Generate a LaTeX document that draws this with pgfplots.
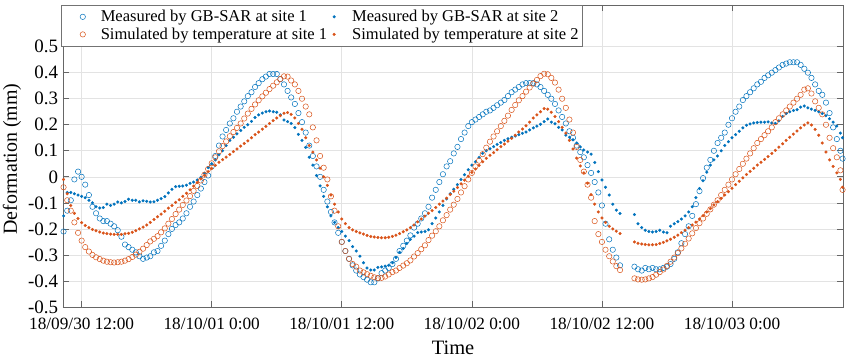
\documentclass[border=0pt]{standalone}
\usepackage{pgfplots}
\pgfplotsset{compat=1.18}
\usepackage{pgfplotstable}
\usepackage{fontspec}
\setmainfont{Liberation Serif}
\definecolor{mblue}{rgb}{0,0.447,0.741}
\definecolor{morange}{rgb}{0.851,0.325,0.098}

\pgfplotstableread{
t A B C D
10.33 -0.21 -0.04 -0.15 -0.01
10.67 -0.13 -0.09 -0.06 -0.065
11.00 -0.09 -0.13 -0.06 -0.11
11.33 -0.01 -0.175 -0.065 -0.14
11.67 0.02 -0.215 -0.07 -0.16
12.00 0.0 -0.245 -0.075 -0.176
12.33 -0.03 -0.27 -0.08 -0.187
12.67 -0.07 -0.287 -0.09 -0.195
13.00 -0.115 -0.3 -0.1 -0.202
13.33 -0.14 -0.309 -0.115 -0.207
13.67 -0.16 -0.316 -0.12 -0.212
14.00 -0.17 -0.322 -0.118 -0.216
14.33 -0.17 -0.326 -0.105 -0.218
14.67 -0.18 -0.328 -0.11 -0.22
15.00 -0.19 -0.329 -0.105 -0.221
15.33 -0.205 -0.328 -0.097 -0.221
15.67 -0.23 -0.326 -0.1 -0.221
16.00 -0.26 -0.322 -0.095 -0.219
16.33 -0.27 -0.316 -0.086 -0.217
16.67 -0.28 -0.308 -0.09 -0.213
17.00 -0.29 -0.299 -0.09 -0.207
17.33 -0.305 -0.288 -0.096 -0.2
17.67 -0.315 -0.276 -0.092 -0.193
18.00 -0.31 -0.262 -0.094 -0.185
18.33 -0.305 -0.248 -0.097 -0.175
18.67 -0.29 -0.238 -0.096 -0.164
19.00 -0.285 -0.228 -0.09 -0.153
19.33 -0.265 -0.213 -0.084 -0.143
19.67 -0.245 -0.198 -0.076 -0.132
20.00 -0.22 -0.18 -0.062 -0.12
20.33 -0.2 -0.162 -0.048 -0.11
20.67 -0.185 -0.143 -0.038 -0.098
21.00 -0.175 -0.126 -0.036 -0.088
21.33 -0.16 -0.108 -0.035 -0.075
21.67 -0.14 -0.091 -0.032 -0.063
22.00 -0.115 -0.074 -0.025 -0.05
22.33 -0.095 -0.054 -0.02 -0.036
22.67 -0.07 -0.035 -0.012 -0.022
23.00 -0.045 -0.014 -0.002 -0.008
23.33 -0.02 0.008 0.014 0.006
23.67 0.005 0.03 0.035 0.02
24.00 0.04 0.052 0.05 0.032
24.33 0.08 0.075 0.065 0.044
24.67 0.12 0.098 0.085 0.056
25.00 0.155 0.118 0.1 0.066
25.33 0.18 0.136 0.12 0.076
25.67 0.205 0.156 0.14 0.086
26.00 0.225 0.172 0.152 0.097
26.33 0.25 0.188 0.165 0.107
26.67 0.27 0.205 0.178 0.118
27.00 0.29 0.224 0.19 0.128
27.33 0.31 0.243 0.2 0.138
27.67 0.325 0.261 0.213 0.15
28.00 0.345 0.278 0.228 0.162
28.33 0.36 0.294 0.238 0.172
28.67 0.375 0.309 0.245 0.183
29.00 0.385 0.323 0.25 0.194
29.33 0.395 0.337 0.253 0.205
29.67 0.395 0.35 0.25 0.216
30.00 0.395 0.363 0.248 0.226
30.33 0.375 0.376 0.238 0.235
30.67 0.355 0.386 0.218 0.244
31.00 0.33 0.385 0.212 0.247
31.33 0.305 0.37 0.205 0.24
31.67 0.28 0.355 0.189 0.226
32.00 0.245 0.33 0.163 0.205
32.33 0.21 0.3 0.14 0.183
32.67 0.17 0.27 0.113 0.15
33.00 0.12 0.24 0.075 0.12
33.33 0.08 0.19 0.045 0.095
33.67 0.04 0.14 0.005 0.065
34.00 0.0 0.08 -0.035 0.033
34.33 -0.05 0.035 -0.075 0.0
34.67 -0.095 -0.01 -0.115 -0.033
35.00 -0.135 -0.075 -0.15 -0.07
35.33 -0.175 -0.13 -0.175 -0.105
35.67 -0.215 -0.19 -0.195 -0.135
36.00 -0.25 -0.25 -0.21 -0.162
36.33 -0.285 -0.285 -0.228 -0.18
36.67 -0.315 -0.315 -0.245 -0.195
37.00 -0.34 -0.335 -0.268 -0.204
37.33 -0.36 -0.345 -0.285 -0.21
37.67 -0.375 -0.36 -0.305 -0.215
38.00 -0.385 -0.367 -0.33 -0.22
38.33 -0.395 -0.374 -0.35 -0.225
38.67 -0.405 -0.38 -0.358 -0.229
39.00 -0.405 -0.386 -0.358 -0.231
39.33 -0.39 -0.389 -0.348 -0.233
39.67 -0.37 -0.388 -0.346 -0.234
40.00 -0.36 -0.383 -0.343 -0.234
40.33 -0.35 -0.375 -0.34 -0.232
40.67 -0.335 -0.366 -0.33 -0.229
41.00 -0.315 -0.36 -0.31 -0.224
41.33 -0.285 -0.35 -0.29 -0.218
41.67 -0.265 -0.341 -0.275 -0.211
42.00 -0.245 -0.332 -0.256 -0.204
42.33 -0.225 -0.321 -0.24 -0.195
42.67 -0.195 -0.306 -0.228 -0.185
43.00 -0.18 -0.293 -0.214 -0.173
43.33 -0.16 -0.278 -0.212 -0.162
43.67 -0.14 -0.263 -0.21 -0.151
44.00 -0.115 -0.243 -0.203 -0.14
44.33 -0.08 -0.226 -0.18 -0.13
44.67 -0.05 -0.209 -0.158 -0.118
45.00 -0.02 -0.19 -0.135 -0.105
45.33 0.01 -0.167 -0.11 -0.093
45.67 0.04 -0.147 -0.085 -0.082
46.00 0.06 -0.126 -0.065 -0.068
46.33 0.09 -0.107 -0.048 -0.055
46.67 0.115 -0.085 -0.03 -0.041
47.00 0.145 -0.06 -0.01 -0.027
47.33 0.17 -0.036 0.008 -0.013
47.67 0.195 -0.01 0.027 0.002
48.00 0.21 0.015 0.045 0.017
48.33 0.22 0.04 0.058 0.03
48.67 0.23 0.062 0.075 0.044
49.00 0.24 0.087 0.09 0.058
49.33 0.25 0.112 0.1 0.071
49.67 0.255 0.135 0.108 0.083
50.00 0.265 0.155 0.116 0.093
50.33 0.275 0.175 0.125 0.104
50.67 0.285 0.195 0.132 0.116
51.00 0.295 0.215 0.14 0.126
51.33 0.31 0.235 0.146 0.137
51.67 0.325 0.257 0.152 0.148
52.00 0.335 0.276 0.157 0.16
52.33 0.345 0.294 0.162 0.172
52.67 0.355 0.31 0.167 0.184
53.00 0.36 0.327 0.172 0.196
53.33 0.36 0.343 0.18 0.21
53.67 0.36 0.358 0.188 0.226
54.00 0.355 0.372 0.195 0.238
54.33 0.345 0.387 0.202 0.25
54.67 0.33 0.396 0.212 0.262
55.00 0.315 0.394 0.222 0.26
55.33 0.3 0.38 0.21 0.248
55.67 0.28 0.362 0.204 0.232
56.00 0.255 0.335 0.19 0.212
56.33 0.23 0.3 0.18 0.19
56.67 0.205 0.265 0.16 0.168
57.00 0.175 0.22 0.152 0.14
57.33 0.15 0.17 0.142 0.107
57.67 0.12 0.115 0.13 0.072
58.00 0.095 0.065 0.115 0.042
58.33 0.075 0.02 0.103 0.015
58.67 0.045 -0.03 0.095 -0.025
59.00 0.015 -0.08 0.087 -0.068
59.33 -0.02 -0.17 0.055 -0.105
59.67 -0.06 -0.22 0.02 -0.135
60.00 -0.11 -0.25 -0.012 -0.158
60.33 -0.18 -0.28 -0.04 -0.175
60.67 -0.24 -0.305 -0.07 -0.19
61.00 -0.28 -0.325 -0.105 -0.2
61.33 -0.31 -0.343 -0.128 -0.209
61.67 -0.34 -0.358 -0.141 -0.218
63.00 -0.345 -0.39 -0.145 -0.25
63.33 -0.355 -0.394 -0.18 -0.255
63.67 -0.36 -0.395 -0.195 -0.258
64.00 -0.35 -0.394 -0.205 -0.26
64.33 -0.355 -0.39 -0.21 -0.261
64.67 -0.35 -0.385 -0.212 -0.261
65.00 -0.355 -0.376 -0.21 -0.26
65.33 -0.355 -0.366 -0.205 -0.256
65.67 -0.35 -0.356 -0.212 -0.252
66.00 -0.345 -0.342 -0.215 -0.246
66.33 -0.335 -0.326 -0.19 -0.24
66.67 -0.315 -0.31 -0.18 -0.232
67.00 -0.29 -0.293 -0.172 -0.224
67.33 -0.255 -0.275 -0.162 -0.214
67.67 -0.22 -0.257 -0.15 -0.205
68.00 -0.19 -0.237 -0.135 -0.195
68.33 -0.15 -0.217 -0.115 -0.185
68.67 -0.105 -0.197 -0.08 -0.174
69.00 -0.055 -0.178 -0.045 -0.162
69.33 -0.005 -0.16 -0.015 -0.149
69.67 0.035 -0.142 0.018 -0.135
70.00 0.065 -0.125 0.045 -0.122
70.33 0.1 -0.107 0.065 -0.108
70.67 0.13 -0.09 0.08 -0.095
71.00 0.15 -0.07 0.1 -0.083
71.33 0.17 -0.05 0.12 -0.07
71.67 0.2 -0.03 0.135 -0.057
72.00 0.225 -0.01 0.15 -0.044
72.33 0.25 0.01 0.162 -0.03
72.67 0.27 0.03 0.175 -0.017
73.00 0.295 0.05 0.188 -0.004
73.33 0.31 0.07 0.198 0.009
73.67 0.325 0.09 0.203 0.021
74.00 0.34 0.11 0.207 0.033
74.33 0.355 0.13 0.209 0.045
74.67 0.365 0.145 0.21 0.056
75.00 0.38 0.16 0.21 0.067
75.33 0.39 0.175 0.211 0.078
75.67 0.4 0.19 0.207 0.09
76.00 0.41 0.21 0.205 0.102
76.33 0.42 0.225 0.215 0.114
76.67 0.43 0.24 0.232 0.127
77.00 0.435 0.255 0.243 0.14
77.33 0.44 0.27 0.25 0.152
77.67 0.44 0.285 0.255 0.164
78.00 0.44 0.3 0.258 0.176
78.33 0.43 0.315 0.268 0.188
78.67 0.415 0.335 0.272 0.199
79.00 0.4 0.34 0.265 0.207
79.33 0.38 0.32 0.26 0.199
79.67 0.355 0.29 0.255 0.182
80.00 0.33 0.265 0.25 0.16
80.33 0.315 0.24 0.243 0.13
80.67 0.285 0.2 0.235 0.095
81.00 0.245 0.15 0.223 0.065
81.33 0.19 0.11 0.21 0.04
81.67 0.145 0.075 0.195 0.015
82.00 0.1 0.025 0.168 -0.01
82.20 0.07 -0.05 0.15 -0.04
}\data

\pgfplotsset{
  myleg/.style={legend image code/.code={\path[draw=none,fill=none] (0bp,0bp) -- (35bp,0bp); \draw[##1] plot coordinates {(18bp,0bp)};}},
}

\begin{document}
\begin{tikzpicture}
\begin{axis}[
  scale only axis, width=780bp, height=302bp,
  xmin=10.28, xmax=82.24, ymin=-0.5, ymax=0.66,
  xtick={12,24,36,48,60,72},
  xticklabels={18/09/30 12:00, 18/10/01 0:00, 18/10/01 12:00, 18/10/02 0:00, 18/10/02 12:00, 18/10/03 0:00},
  ytick={-0.5,-0.4,-0.3,-0.2,-0.1,0,0.1,0.2,0.3,0.4,0.5},
  yticklabels={-0.5,-0.4,-0.3,-0.2,-0.1,0,0.1,0.2,0.3,0.4,0.5},
  tick align=inside, tick pos=both, major tick length=6bp,
  grid=major, major grid style={color=black!11, line width=0.6bp},
  axis line style={color=black!60, line width=0.8bp},
  tick style={color=black!60, line width=0.7bp},
  xticklabel style={font=\fontsize{17.3}{19}\selectfont, inner ysep=1bp, yshift=-9.5bp},
  yticklabel style={font=\fontsize{19}{21}\selectfont, inner ysep=0.5bp, xshift=-1.5bp},
  xlabel={Time}, ylabel={Deformation (mm)},
  xlabel style={font=\fontsize{20.5}{22}\selectfont, at={(axis description cs:0.5,-0.136)}, anchor=center},
  ylabel style={font=\fontsize{20}{22}\selectfont, at={(axis description cs:-0.0655,0.49)}, anchor=center},
  legend columns=2, legend cell align=left,
  legend style={at={(axis description cs:-0.002,1.001)}, anchor=north west, draw=black!55, fill=white,
    line width=0.7bp, inner xsep=3bp, inner ysep=3bp, font=\fontsize{16.6}{18}\selectfont,
    nodes={inner xsep=1bp, inner ysep=2.3bp},
    /tikz/every even column/.append style={column sep=-12bp}},
]
\addplot[only marks, mark=o, mark size=2.7bp, color=mblue, line width=0.5bp, myleg] table[x=t,y=A]{\data};
\addlegendentry{Measured by GB-SAR at site 1}
\addplot[only marks, mark=*, mark size=1.4bp, color=mblue, line width=0.3bp, myleg] table[x=t,y=C]{\data};
\addlegendentry{Measured by GB-SAR at site 2}
\addplot[only marks, mark=o, mark size=2.7bp, color=morange, line width=0.5bp, myleg] table[x=t,y=B]{\data};
\addlegendentry{Simulated by temperature at site 1}
\addplot[only marks, mark=*, mark size=1.4bp, color=morange, line width=0.3bp, myleg] table[x=t,y=D]{\data};
\addlegendentry{Simulated by temperature at site 2}
\end{axis}
\pgfresetboundingbox
\path ([shift={(-63bp,-53bp)}]current axis.south west) rectangle ([shift={(7bp,5bp)}]current axis.north east);
\end{tikzpicture}
\end{document}
